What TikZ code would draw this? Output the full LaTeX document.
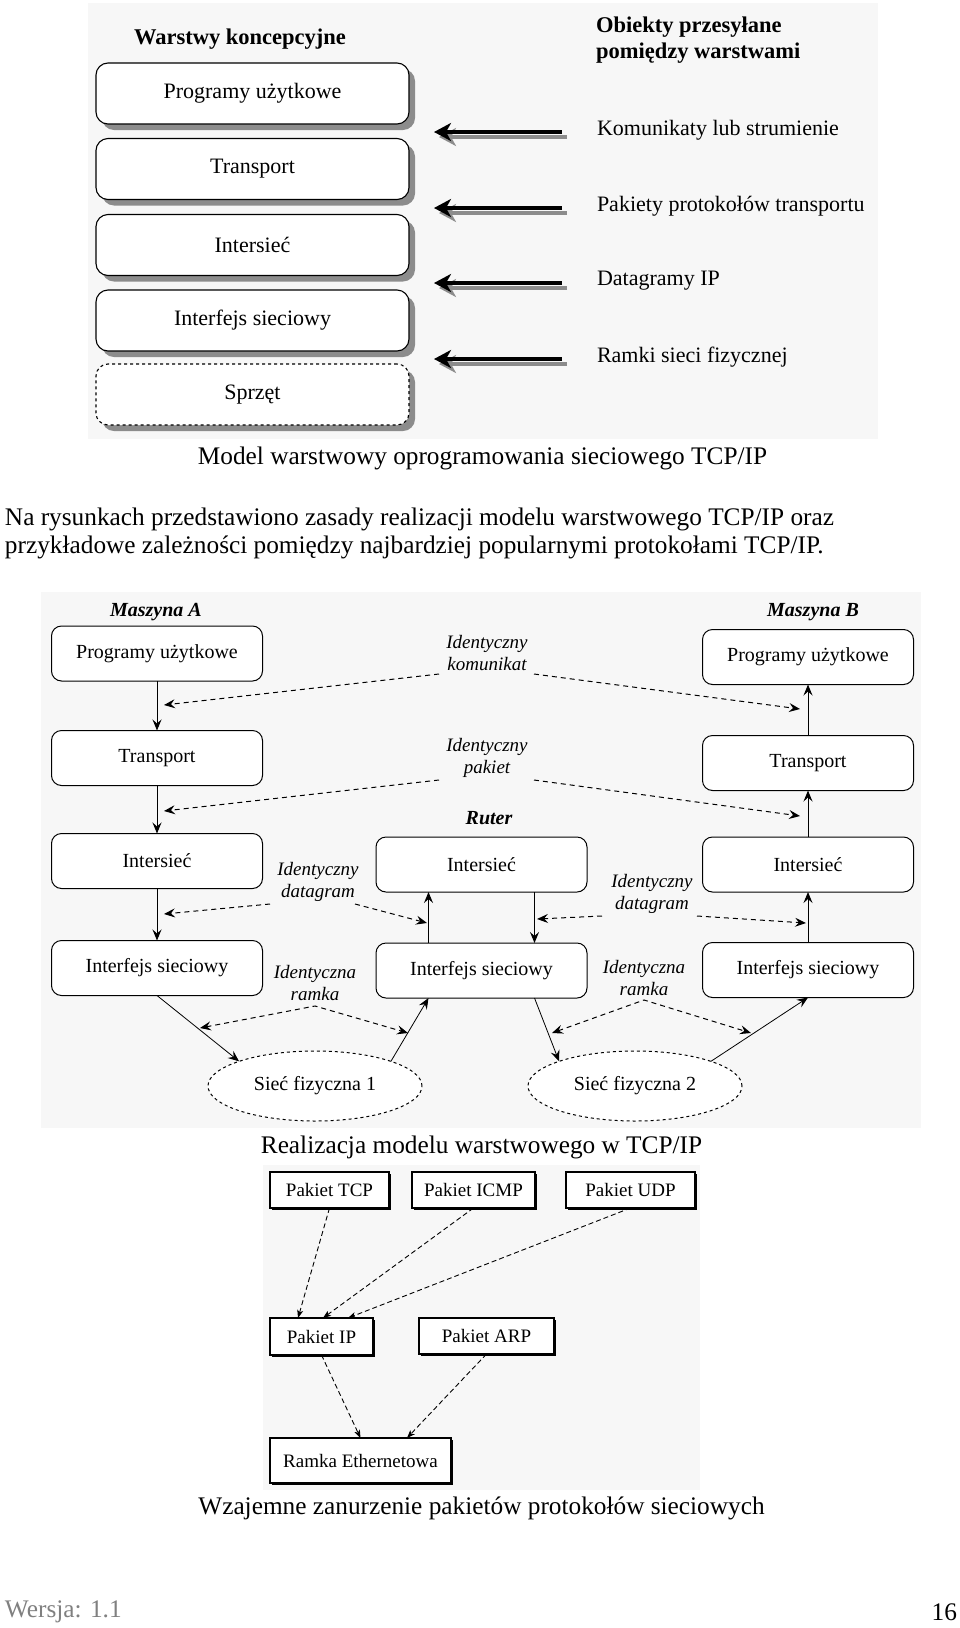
\documentclass[tikz,border=0pt]{standalone}
\usepackage{fontspec}
\setmainfont{Liberation Serif}
\usetikzlibrary{arrows.meta,shapes.geometric,shadows,calc}
\definecolor{bgc}{RGB}{247,247,247}
\definecolor{shd}{RGB}{140,140,140}
\definecolor{footgray}{RGB}{128,128,128}
\begin{document}
\begin{tikzpicture}[x=1pt,y=-1pt,
  every node/.style={inner sep=0pt, outer sep=0pt},
  capt/.style={font=\fontsize{25.3}{29}\selectfont},
  lbox/.style={draw, rounded corners=12pt, line width=1.1pt, fill=white,
    minimum width=313pt, minimum height=61pt, font=\fontsize{22}{26}\selectfont,
    general shadow={fill=shd, shadow xshift=6pt, shadow yshift=-6pt}},
  hdr/.style={font=\fontsize{22.5}{26}\selectfont\bfseries},
  rlab/.style={anchor=west, font=\fontsize{22}{26}\selectfont},
  bigarr/.style={line width=3.5pt, -{Stealth[length=17pt,width=18pt,inset=5pt]}},
  bigarrsh/.style={line width=3.5pt, draw=shd, -{Stealth[length=17pt,width=18pt,inset=5pt,fill=shd]}},
  mbox/.style={draw, rounded corners=10pt, line width=1pt, fill=white,
    minimum width=211pt, minimum height=55pt, font=\fontsize{20}{24}\selectfont},
  mhdr/.style={font=\fontsize{20}{24}\selectfont\bfseries\itshape},
  ilab/.style={align=center, font=\fontsize{19}{22}\selectfont\itshape},
  net/.style={draw, dashed, ellipse, line width=1pt, fill=white, minimum width=214pt,
    minimum height=70pt, font=\fontsize{20}{24}\selectfont},
  sarr/.style={line width=1pt, -{Stealth[length=11pt,width=9pt,inset=4pt]}},
  darr/.style={line width=1pt, dash pattern=on 5pt off 4pt, -{Stealth[length=11pt,width=9pt,inset=4pt]}},
  darr2/.style={line width=1pt, dash pattern=on 5pt off 4pt, {Stealth[length=11pt,width=9pt,inset=4pt]}-{Stealth[length=11pt,width=9pt,inset=4pt]}},
  pbox/.style={draw, line width=2.4pt, fill=white, minimum height=36pt,
    font=\fontsize{19}{22}\selectfont,
    general shadow={fill=black, shadow xshift=1.5pt, shadow yshift=-1.5pt}},
  parr/.style={line width=0.9pt, dash pattern=on 5pt off 3pt, -{Stealth[length=8pt,width=6pt,inset=2pt]}}
]
\useasboundingbox (0,0) rectangle (960,1628);
\fill[white] (0,0) rectangle (960,1628);

% ---------------- Figure 1 ----------------
\fill[bgc] (88,3) rectangle (878,439);
\node[hdr] (h1) at (240,39) {Warstwy koncepcyjne};
\node[hdr, anchor=west, align=left] (h2) at (596,40) {Obiekty przesyłane\\pomiędzy warstwami};
\node[lbox] (l1) at (252.5,93.5) {Programy użytkowe};
\node[lbox] (l2) at (252.5,169) {Transport};
\node[lbox] (l3) at (252.5,245) {Intersieć};
\node[lbox] (l4) at (252.5,320.5) {Interfejs sieciowy};
\node[lbox, dashed] (l5) at (252.5,394.5) {Sprzęt};
\foreach \yy/\nm/\txt in {132/1/Komunikaty lub strumienie, 208/2/Pakiety protokołów transportu, 283/3/Datagramy IP, 359/4/Ramki sieci fizycznej}{
  \coordinate (as\nm) at (562,\yy);
  \coordinate (at\nm) at (434,\yy);
  \draw[bigarrsh] ([shift={(5,5)}]as\nm) -- ([shift={(5,5)}]at\nm);
  \draw[bigarr] (as\nm) -- (at\nm);
  \node[rlab] (r\nm) at (597,\yy-2) {\txt};
}
\node[capt] (c1) at (482.5,458) {Model warstwowy oprogramowania sieciowego TCP/IP};
\node[capt, anchor=west] (p1) at (5,519) {Na rysunkach przedstawiono zasady realizacji modelu warstwowego TCP/IP oraz};
\node[capt, anchor=west] (p2) at (5,547) {przykładowe zależności pomiędzy najbardziej popularnymi protokołami TCP/IP.};

% ---------------- Figure 2 ----------------
\fill[bgc] (41,592) rectangle (921,1128);
\node[mhdr] (mA) at (156,612) {Maszyna A};
\node[mhdr] (mB) at (813,612) {Maszyna B};
\node[mhdr] (mR) at (489,818) {Ruter};

\node[mbox] (pgA) at (157,653.5) {Programy użytkowe};
\node[mbox] (trA) at (157,758) {Transport};
\node[mbox] (isA) at (157,861) {Intersieć};
\node[mbox] (ifA) at (157,968) {Interfejs sieciowy};

\node[mbox] (pgB) at (808,657) {Programy użytkowe};
\node[mbox] (trB) at (808,763) {Transport};
\node[mbox] (isB) at (808,864.5) {Intersieć};
\node[mbox] (ifB) at (808,970) {Interfejs sieciowy};

\node[mbox] (isR) at (481.5,864.5) {Intersieć};
\node[mbox] (ifR) at (481.5,970.5) {Interfejs sieciowy};

\node[net] (e1) at (315,1086) {Sieć fizyczna 1};
\node[net] (e2) at (635,1086) {Sieć fizyczna 2};

% solid connectors
\draw[sarr] (pgA.south) -- (trA.north);
\draw[sarr] (trA.south) -- (isA.north);
\draw[sarr] (isA.south) -- (ifA.north);
\draw[sarr] (ifB.north) -- (isB.south);
\draw[sarr] (isB.north) -- (trB.south);
\draw[sarr] (trB.north) -- (pgB.south);
\draw[sarr] ($(ifR.north)+(-53,0)$) -- ($(isR.south)+(-53,0)$);
\draw[sarr] ($(isR.south)+(53,0)$) -- ($(ifR.north)+(53,0)$);
\draw[sarr, line width=0.8pt] (ifA.south) -- (e1.162);
\draw[sarr, line width=0.8pt] (e1.18) -- ($(ifR.south)+(-53,0)$);
\draw[sarr, line width=0.8pt] ($(ifR.south)+(53,0)$) -- (e2.162);
\draw[sarr, line width=0.8pt] (e2.18) -- (ifB.south);

% labels of identical objects
\node[ilab] (ik) at (487,653) {Identyczny\\komunikat};
\node[ilab] (ip) at (487,758) {Identyczny\\pakiet};
\node[ilab] (id1) at (318,882) {Identyczny\\datagram};
\node[ilab] (id2) at (652,894) {Identyczny\\datagram};
\node[ilab] (ir1) at (315,983) {Identyczna\\ramka};
\node[ilab] (ir2) at (644,978) {Identyczna\\ramka};

\coordinate (kL) at (439,674); \coordinate (kR) at (534,674);
\coordinate (kA) at (164,705); \coordinate (kB) at (800,709);
\coordinate (pL) at (439,780); \coordinate (pR) at (534,780);
\coordinate (pA) at (164,811); \coordinate (pB) at (800,816);
\coordinate (d1L) at (270,904); \coordinate (d1R) at (355,904);
\coordinate (d1A) at (164,914); \coordinate (d1B) at (427,923);
\coordinate (d2L) at (602,916); \coordinate (d2R) at (697,916);
\coordinate (d2A) at (537,919); \coordinate (d2B) at (806,923);
\coordinate (r1A) at (200,1028); \coordinate (r1M) at (315,1006); \coordinate (r1B) at (408,1033);
\coordinate (r2A) at (552,1033); \coordinate (r2M) at (644,1000); \coordinate (r2B) at (751,1033);

\draw[darr] (kL) -- (kA);
\draw[darr] (kR) -- (kB);
\draw[darr] (pL) -- (pA);
\draw[darr] (pR) -- (pB);
\draw[darr] (d1L) -- (d1A);
\draw[darr] (d1R) -- (d1B);
\draw[darr] (d2L) -- (d2A);
\draw[darr] (d2R) -- (d2B);
\draw[darr2] (r1A) -- (r1M) -- (r1B);
\draw[darr2] (r2A) -- (r2M) -- (r2B);

\node[capt] (c2) at (481.5,1147) {Realizacja modelu warstwowego w TCP/IP};

% ---------------- Figure 3 ----------------
\fill[bgc] (263,1165) rectangle (700,1490);
\node[pbox, minimum width=119pt] (tcp) at (329.5,1190) {Pakiet TCP};
\node[pbox, minimum width=123pt] (icmp) at (473.5,1190) {Pakiet ICMP};
\node[pbox, minimum width=129pt] (udp) at (630.5,1190) {Pakiet UDP};
\node[pbox, minimum width=103pt, minimum height=37pt] (ipk) at (321.5,1336.5) {Pakiet IP};
\node[pbox, minimum width=135pt] (arp) at (486.5,1336) {Pakiet ARP};
\node[pbox, minimum width=181pt, minimum height=45pt] (eth) at (360.5,1460.5) {Ramka Ethernetowa};

\draw[parr] (tcp.south) -- ($(ipk.north)+(-23.5,0)$);
\draw[parr] (icmp.south) -- ($(ipk.north)+(1.5,0)$);
\draw[parr] (udp.south) -- ($(ipk.north)+(26.5,0)$);
\draw[parr] (ipk.south) -- (eth.north);
\draw[parr] (arp.south) -- ($(eth.north)+(46.5,0)$);

\node[capt] (c3) at (481.5,1508) {Wzajemne zanurzenie pakietów protokołów sieciowych};

\node[capt, anchor=west, text=footgray] (f1) at (5,1612) {Wersja: 1.1};
\node[capt, anchor=east] (f2) at (957,1612) {16};
\end{tikzpicture}
\end{document}
